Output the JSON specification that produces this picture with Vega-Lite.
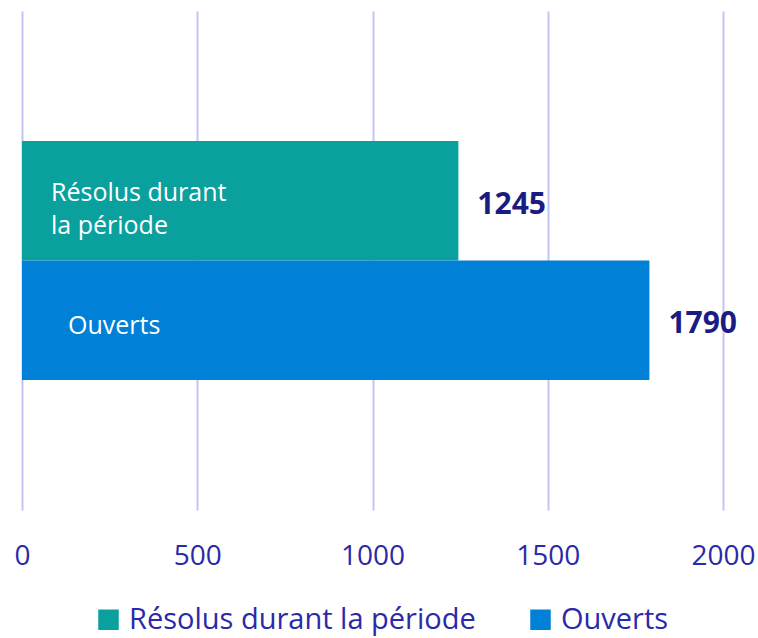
{
  "$schema": "https://vega.github.io/schema/vega-lite/v6.json",
  "width": 701,
  "height": 499,
  "autosize": {"type": "none"},
  "padding": {"left": 22, "top": 11, "right": 35, "bottom": 128},
  "background": "white",
  "config": {
    "view": {"stroke": null},
    "font": "Open Sans"
  },
  "data": {
    "values": [
      {"categorie": "Résolus durant la période", "valeur": 1245, "interne": "Résolus durant\nla période"},
      {"categorie": "Ouverts", "valeur": 1790, "interne": "Ouverts"}
    ]
  },
  "encoding": {
    "y": {
      "field": "categorie",
      "type": "nominal",
      "scale": {"domain": ["_haut", "Résolus durant la période", "Ouverts", "_bas"], "paddingInner": 0, "paddingOuter": 0.09},
      "axis": null
    }
  },
  "layer": [
    {
      "mark": {"type": "bar"},
      "encoding": {
        "x": {
          "field": "valeur",
          "type": "quantitative",
          "scale": {"domain": [0, 2000], "nice": false},
          "axis": {
            "values": [0, 500, 1000, 1500, 2000],
            "format": "d",
            "title": null,
            "domain": false,
            "ticks": false,
            "grid": true,
            "gridColor": "#c4c4f2",
            "gridWidth": 2,
            "labelFont": "Open Sans",
            "labelFontSize": 28,
            "labelColor": "#2a2aa8",
            "labelPadding": 32,
            "labelFlush": false
          }
        },
        "color": {
          "field": "categorie",
          "type": "nominal",
          "scale": {"domain": ["Résolus durant la période", "Ouverts"], "range": ["#0aa09e", "#0080d6"]},
          "legend": {
            "orient": "none",
            "legendX": 72,
            "legendY": 594,
            "direction": "horizontal",
            "title": null,
            "symbolType": "square",
            "symbolSize": 420,
            "symbolStrokeWidth": 0,
            "labelFont": "Open Sans",
            "labelFontSize": 29,
            "labelColor": "#2a2aa8",
            "labelLimit": 500,
            "columnPadding": 50,
            "labelOffset": 6
          }
        }
      }
    },
    {
      "transform": [{"filter": "datum.categorie === 'Résolus durant la période'"}],
      "mark": {"type": "text", "align": "left", "baseline": "middle", "color": "white", "fontSize": 25, "font": "Open Sans", "dx": 29, "lineBreak": "\n", "lineHeight": 33, "dy": -8},
      "encoding": {
        "x": {"datum": 0, "type": "quantitative"},
        "text": {"field": "interne"}
      }
    },
    {
      "transform": [{"filter": "datum.categorie === 'Ouverts'"}],
      "mark": {"type": "text", "align": "left", "baseline": "middle", "color": "white", "fontSize": 25, "font": "Open Sans", "dx": 46, "dy": 6},
      "encoding": {
        "x": {"datum": 0, "type": "quantitative"},
        "text": {"field": "interne"}
      }
    },
    {
      "mark": {"type": "text", "align": "left", "baseline": "middle", "color": "#1b1b84", "fontSize": 30, "fontWeight": "bold", "font": "Open Sans", "dx": 19, "dy": 4},
      "encoding": {
        "x": {"field": "valeur", "type": "quantitative"},
        "text": {"field": "valeur", "type": "quantitative"}
      }
    }
  ]
}
